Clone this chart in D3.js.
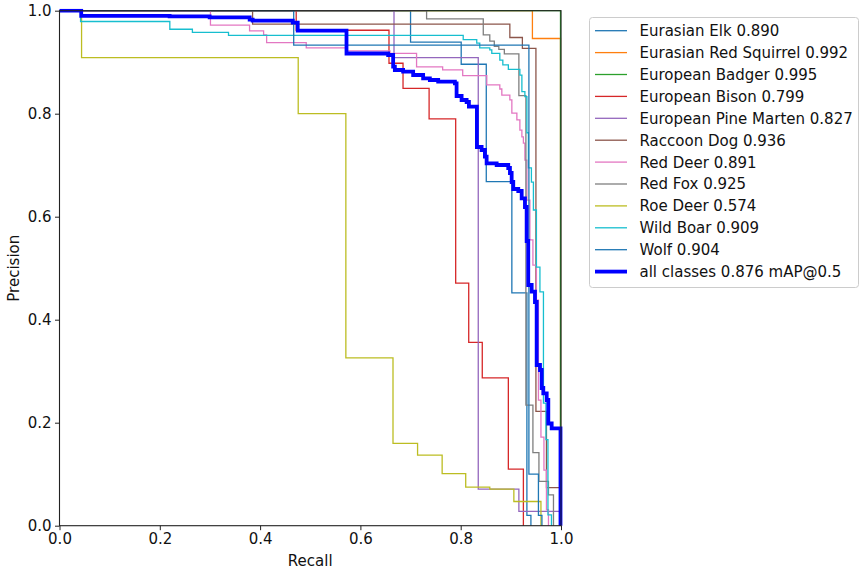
<!DOCTYPE html>
<html><head><meta charset="utf-8">
<script src="https://cdn.jsdelivr.net/npm/d3@7"></script>
<style>
body{margin:0;background:#fff;}
svg text{font-family:"DejaVu Sans",sans-serif;fill:#111;}
</style></head>
<body><svg id="c" width="862" height="571"></svg>
<script>
// ---- data: [recall, precision] step points (precision drops to value at recall) ----
const classNames = ["Eurasian Elk","Eurasian Red Squirrel","European Badger","European Bison","European Pine Marten","Raccoon Dog","Red Deer","Red Fox","Roe Deer","Wild Boar","Wolf"];
const classAP = [0.890,0.992,0.995,0.799,0.827,0.936,0.891,0.925,0.574,0.909,0.904];
const mAP = 0.876;
const colors = ["#1f77b4","#ff7f0e","#2ca02c","#d62728","#9467bd","#8c564b","#e377c2","#7f7f7f","#bcbd22","#17becf","#1f77b4"];
const xTicks = [0,0.2,0.4,0.6,0.8,1.0];
const yTicks = [0,0.2,0.4,0.6,0.8,1.0];

const elk = [[0,1],[0.700,0.939],[0.801,0.896],[0.851,0.668],[0.902,0.452],[0.932,0.02],[0.940,0]];
const squirrel = [[0,1],[0.943,0.946],[0.999,0]];
const badger = [[0,1],[0.999,0]];
const bison = [[0,1],[0.472,0.962],[0.657,0.898],[0.685,0.849],[0.737,0.790],[0.790,0.471],[0.816,0.356],[0.843,0.287],[0.895,0.110],[0.925,0]];
const pineMarten = [[0,1],[0.667,0.909],[0.835,0.071],[0.916,0.028],[0.999,0]];
const raccoonDog = [[0,1],[0.385,0.974],[0.898,0.948],[0.923,0.927],[0.950,0.222],[0.971,0.074],[0.999,0]];
const redDeer = [[0,1],[0.301,0.972],[0.379,0.961],[0.407,0.953],[0.413,0.938],[0.492,0.928],[0.571,0.922],[0.659,0.917],[0.712,0.891],[0.764,0.885],[0.804,0.874],[0.852,0.856],[0.878,0.848],[0.882,0.836],[0.898,0.827],[0.902,0.801],[0.912,0.788],[0.918,0.768],[0.922,0.755],[0.925,0.743],[0.928,0.710],[0.932,0.632],[0.938,0.555],[0.944,0.506],[0.951,0.438],[0.955,0.244],[0.960,0.172],[0.966,0.108],[0.971,0.031],[0.975,0]];
const redFox = [[0,1],[0.732,0.984],[0.845,0.953],[0.858,0.941],[0.867,0.931],[0.876,0.925],[0.887,0.916],[0.916,0.835],[0.930,0.234],[0.944,0.142],[0.956,0.086],[0.975,0.06],[0.985,0]];
const roeDeer = [[0,1],[0.044,0.909],[0.476,0.800],[0.571,0.326],[0.665,0.160],[0.714,0.137],[0.763,0.101],[0.810,0.075],[0.858,0.071],[0.906,0.047],[0.960,0]];
const wildBoar = [[0,1],[0.042,0.979],[0.220,0.964],[0.265,0.958],[0.337,0.952],[0.805,0.944],[0.832,0.937],[0.838,0.928],[0.858,0.924],[0.862,0.917],[0.878,0.904],[0.884,0.895],[0.895,0.886],[0.918,0.875],[0.922,0.843],[0.928,0.833],[0.932,0.763],[0.935,0.695],[0.941,0.667],[0.945,0.613],[0.951,0.502],[0.958,0.454],[0.965,0.238],[0.970,0.167],[0.974,0.021],[0.981,0]];
const wolf = [[0,1],[0.467,0.933],[0.936,0.10],[0.955,0.02],[0.962,0]];
const allClasses = [[0,1],[0.0433,0.990],[0.2196,0.989],[0.2994,0.987],[0.3792,0.9825],[0.3852,0.9806],[0.4651,0.9767],[0.4750,0.9612],[0.5723,0.9169],[0.6553,0.9140],[0.6653,0.8913],[0.6687,0.8849],[0.6852,0.8816],[0.7052,0.8751],[0.7251,0.8687],[0.7385,0.8654],[0.7551,0.8621],[0.7884,0.8590],[0.7918,0.8344],[0.8018,0.8266],[0.8118,0.8227],[0.8164,0.8136],[0.8323,0.7353],[0.8417,0.7295],[0.8483,0.7165],[0.8517,0.7037],[0.8717,0.7004],[0.8948,0.6946],[0.8982,0.6849],[0.9016,0.6674],[0.9048,0.6538],[0.9148,0.6499],[0.9216,0.6357],[0.9281,0.6188],[0.9315,0.5528],[0.9347,0.4674],[0.9415,0.4544],[0.9481,0.4344],[0.9515,0.3120],[0.9581,0.3023],[0.9615,0.2674],[0.9647,0.2571],[0.9715,0.2441],[0.9747,0.1984],[0.9814,0.1891],[0.999,0.0]];
const series = [elk,squirrel,badger,bison,pineMarten,raccoonDog,redDeer,redFox,roeDeer,wildBoar,wolf];

// ---- drawing ----
const svg = d3.select("#c");
const L=59.5, R=561, T=10.7, B=525.7;
const FS = "15px";
const x = d3.scaleLinear().domain([0,1]).range([L,R]);
const y = d3.scaleLinear().domain([0,1]).range([B,T]);

const plot = svg.append("g");
plot.append("defs").append("clipPath").attr("id","clip").append("rect")
  .attr("x",L-2).attr("y",T-2).attr("width",R-L+4).attr("height",B-T+4);
const line = d3.line().x(d=>x(d[0])).y(d=>y(d[1])).curve(d3.curveStepAfter);
const lg = plot.append("g").attr("clip-path","url(#clip)");
series.forEach((s,i)=>{
  lg.append("path").attr("d",line(s)).attr("fill","none")
    .attr("stroke",colors[i]).attr("stroke-width",1.3);
});
lg.append("path").attr("d",line(allClasses)).attr("fill","none")
  .attr("stroke","#0000ff").attr("stroke-width",3.8);

// frame
svg.append("rect").attr("x",L).attr("y",T).attr("width",R-L).attr("height",B-T)
  .attr("fill","none").attr("stroke","#222").attr("stroke-width",1.1);

const fmt = d3.format(".1f");
const xa = svg.append("g").attr("transform",`translate(0,${B})`)
  .call(d3.axisBottom(x).tickValues(xTicks).tickFormat(fmt).tickSize(4.5).tickSizeOuter(0).tickPadding(3.5));
const ya = svg.append("g").attr("transform",`translate(${L},0)`)
  .call(d3.axisLeft(y).tickValues(yTicks).tickFormat(fmt).tickSize(4.5).tickSizeOuter(0).tickPadding(3.5));
[xa,ya].forEach(a=>{
  a.select(".domain").remove();
  a.selectAll("line").attr("stroke","#222");
  a.selectAll("text").attr("font-size",FS).attr("fill","#111").attr("font-family","DejaVu Sans");
});
svg.append("text").attr("x",(L+R)/2).attr("y",566).attr("text-anchor","middle")
  .attr("font-size",FS).text("Recall");
svg.append("text").attr("transform",`translate(18.5,${(T+B)/2}) rotate(-90)`)
  .attr("text-anchor","middle").attr("font-size",FS).text("Precision");

// legend
const lgx=589.5, lgy=17.5, rowH=21.9;
const leg = svg.append("g");
leg.append("rect").attr("x",lgx).attr("y",lgy).attr("width",269).attr("height",270)
  .attr("rx",3).attr("fill","#fff").attr("fill-opacity",0.8).attr("stroke","#ccc").attr("stroke-width",1);
const labels = classNames.map((n,i)=>`${n} ${classAP[i].toFixed(3)}`).concat([`all classes ${mAP.toFixed(3)} mAP@0.5`]);
labels.forEach((t,i)=>{
  const cy = 30.7 + i*rowH;
  leg.append("line").attr("x1",595).attr("x2",627).attr("y1",cy).attr("y2",cy)
    .attr("stroke", i<11?colors[i]:"#0000ff").attr("stroke-width", i<11?1.3:3.8);
  leg.append("text").attr("x",639.5).attr("y",cy).attr("dy","0.36em")
    .attr("font-size",FS).text(t);
});
</script></body></html>
